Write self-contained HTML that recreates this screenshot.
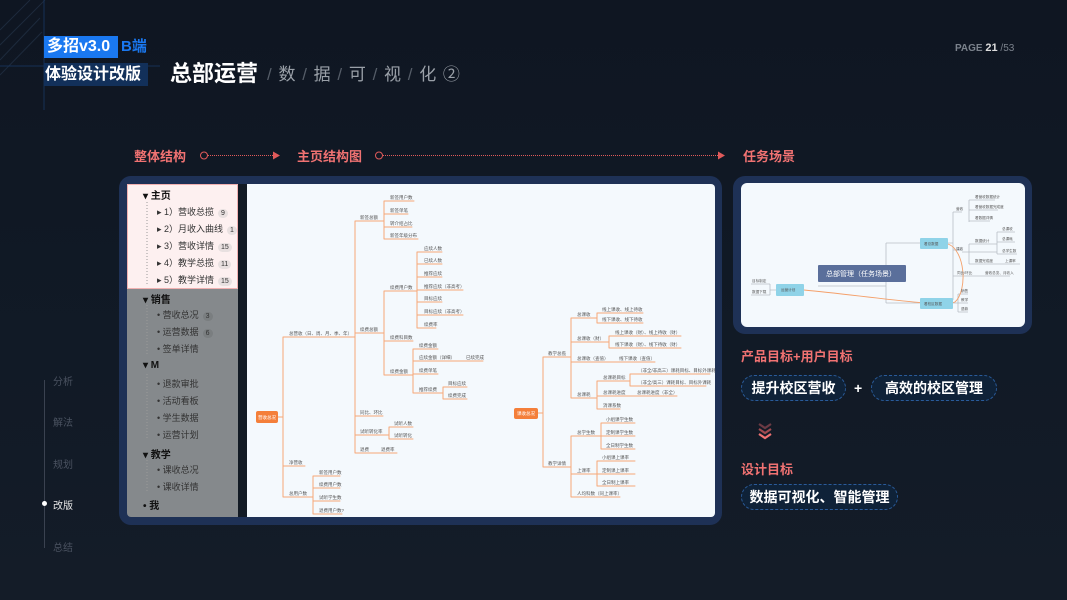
<!DOCTYPE html>
<html><head><meta charset="utf-8"><style>
*{margin:0;padding:0;box-sizing:border-box}
body{width:1067px;height:600px;overflow:hidden;background:linear-gradient(180deg,#0f1622 0%,#111a26 60%,#141c28 100%);font-family:"Liberation Sans","Noto Sans CJK SC",sans-serif;position:relative;color:#fff}
.a{position:absolute;white-space:nowrap}
.red{color:#f07272;font-weight:bold;font-size:13px}
.pill{position:absolute;height:26px;border:1px dashed #2a5b9a;border-radius:13px;background:#0f2238;color:#fff;font-weight:bold;font-size:14px;line-height:24px;text-align:center}
.sb{position:absolute;left:127px;width:111px;font-size:9px;color:#333}
.sb div{position:absolute;white-space:nowrap}
.h{font-weight:bold;font-size:10px;color:#111}
.b{display:inline-block;background:#e8e0e0;border-radius:5px;font-size:7px;padding:0 3px;margin-left:4px;color:#333;line-height:9px}
.nav{position:absolute;left:53px;font-size:10px;color:#4a5260}
</style></head><body>
<svg class="a" style="left:0;top:0" width="160" height="110"><g stroke="#1d2a3c" stroke-width="1"><line x1="0" y1="30" x2="30" y2="0"/><line x1="0" y1="45" x2="45" y2="0"/><line x1="0" y1="60" x2="40" y2="18"/><line x1="0" y1="75" x2="42" y2="32"/></g><line x1="0" y1="66" x2="160" y2="66" stroke="#163056"/><line x1="44" y1="0" x2="44" y2="110" stroke="#163056"/></svg>
<div class="a" style="left:44px;top:36px;width:74px;height:22px;background:#1a78f0"></div>
<div class="a" style="left:47px;top:36px;font-size:16px;font-weight:bold;line-height:22px">多招v3.0</div>
<div class="a" style="left:121px;top:36px;font-size:15px;font-weight:bold;line-height:22px;color:#1a78f0">B端</div>
<div class="a" style="left:44px;top:63px;width:104px;height:23px;background:#12305a"></div>
<div class="a" style="left:45px;top:63px;font-size:16px;font-weight:bold;line-height:23px">体验设计改版</div>
<div class="a" style="left:170px;top:59px;font-size:22px;font-weight:bold;line-height:30px">总部运营</div>
<div class="a" style="left:267px;top:63px;font-size:17px;line-height:24px;color:#9aa0a8;letter-spacing:1px"><span style="color:#555d68">/</span> 数 <span style="color:#555d68">/</span> 据 <span style="color:#555d68">/</span> 可 <span style="color:#555d68">/</span> 视 <span style="color:#555d68">/</span> 化 ②</div>
<div class="a" style="left:955px;top:42px;font-size:10px;font-weight:bold;color:#7b828c">PAGE <span style="color:#ddd;font-size:11px">21</span> <span style="font-weight:normal">/53</span></div>

<div class="a red" style="left:134px;top:146px">整体结构</div>
<div class="a red" style="left:297px;top:146px">主页结构图</div>
<div class="a red" style="left:743px;top:146px">任务场景</div>
<svg class="a" style="left:0;top:140px" width="1067" height="30"><g stroke="#e05a5a" fill="none"><circle cx="204" cy="15.5" r="3.5"/><line x1="208" y1="15.5" x2="274" y2="15.5" stroke-dasharray="1 1"/><circle cx="379" cy="15.5" r="3.5"/><line x1="383" y1="15.5" x2="720" y2="15.5" stroke-dasharray="1 1"/></g><polygon points="273,11.5 280,15.5 273,19.5" fill="#e05a5a"/><polygon points="718,11.5 725,15.5 718,19.5" fill="#e05a5a"/></svg>

<div class="a" style="left:119px;top:176px;width:603px;height:349px;background:#1e3156;border-radius:12px"></div>
<div class="a" style="left:127px;top:184px;width:111px;height:333px;background:#85898c;border-radius:4px 0 0 4px"></div>
<div class="a" style="left:127px;top:184px;width:111px;height:105px;background:#fdf0f0;border:1px solid #f0b0b0"></div>
<div class="a" style="left:238px;top:184px;width:9px;height:333px;background:#121a24"></div>
<div class="a" style="left:247px;top:184px;width:468px;height:333px;background:#f4f9fd;border-radius:0 4px 4px 0"></div>
<svg class="a" style="left:127px;top:184px" width="111" height="333"><g stroke="#9a9a9a" stroke-dasharray="1 2"><line x1="20" y1="18" x2="20" y2="102"/><line x1="20" y1="121" x2="20" y2="170"/><line x1="20" y1="190" x2="20" y2="256"/><line x1="20" y1="276" x2="20" y2="308"/></g></svg>
<div class="sb" style="top:184px;height:333px">
<div class="h" style="left:16px;top:3px">▾ 主页</div>
<div style="left:30px;top:21px">▸ 1）营收总揽<span class="b">9</span></div>
<div style="left:30px;top:38px">▸ 2）月收入曲线<span class="b">1</span></div>
<div style="left:30px;top:55px">▸ 3）营收详情<span class="b">15</span></div>
<div style="left:30px;top:72px">▸ 4）教学总揽<span class="b">11</span></div>
<div style="left:30px;top:89px">▸ 5）教学详情<span class="b">15</span></div>
<div class="h" style="left:16px;top:107px">▾ 销售</div>
<div style="left:30px;top:124px">• 营收总况<span class="b" style="background:#7a7e80">3</span></div>
<div style="left:30px;top:141px">• 运营数据<span class="b" style="background:#7a7e80">6</span></div>
<div style="left:30px;top:158px">• 签单详情</div>
<div class="h" style="left:16px;top:176px">▾ M</div>
<div style="left:30px;top:193px">• 退款审批</div>
<div style="left:30px;top:210px">• 活动看板</div>
<div style="left:30px;top:227px">• 学生数据</div>
<div style="left:30px;top:244px">• 运营计划</div>
<div class="h" style="left:16px;top:262px">▾ 教学</div>
<div style="left:30px;top:279px">• 课收总况</div>
<div style="left:30px;top:296px">• 课收详情</div>
<div class="h" style="left:16px;top:313px">• 我</div>
</div>

<svg class="a" style="left:0;top:0" width="1067" height="600" font-family="Liberation Sans,Noto Sans CJK SC,sans-serif" font-size="4.5" fill="#555">
<g stroke="#f6a878" stroke-width="1" fill="none" stroke-linecap="round">
<path d="M278 417H283M283 337V497M283 337H355M283 466H305M283 497H313"/>
<path d="M355 221V453M355 221H384M355 333H384M355 416H383M355 435H389M355 453H397"/>
<path d="M384 201V239M384 201H414M384 214H408M384 227H412M384 239H418"/>
<path d="M384 291V375M384 291H417M384 341H413M384 375H413"/>
<path d="M417 252V328M417 252H442M417 264H442M417 277H442M417 290H463M417 302H442M417 315H463M417 328H436"/>
<path d="M413 349V393M413 349H438M413 361H483M413 374H438M413 393H443M443 387V399M443 387H467M443 399H467"/>
<path d="M389 427V439M389 427H413M389 439H413M313 476V514M313 476H340M313 488H340M313 501H340M313 514H342"/>
<path d="M538 413H543M543 357V467M543 357H571M543 467H571"/>
<path d="M571 318V398M571 318H597M571 342H609M571 362H655M571 398H597"/>
<path d="M597 313V323M597 313H643M597 323H643M609 336V348M609 336H681M609 348H681"/>
<path d="M597 381V409M597 381H630M597 396H677M597 409H620M630 374V386M630 374H710M630 386H706"/>
<path d="M571 436V497M571 436H601M571 474H597M571 497H620M601 423V449M601 423H635M601 436H635M601 449H635M597 461V486M597 461H635M597 474H635M597 486H635"/>
</g>
<rect x="256" y="411" width="22" height="12" rx="2" fill="#f47f3a"/><text x="258" y="419" fill="#fff">营收总况</text>
<rect x="514" y="408" width="24" height="11" rx="2" fill="#f47f3a"/><text x="517" y="415" fill="#fff">课收总况</text>
<text x="289" y="335">总营收（日、周、月、季、年）</text><text x="289" y="464">净营收</text><text x="289" y="495">总用户数</text>
<text x="360" y="219">新签总额</text><text x="360" y="331">续费总额</text><text x="360" y="414">同比、环比</text><text x="360" y="433">试听转化率</text><text x="360" y="451">退费</text><text x="381" y="451">退费率</text>
<text x="390" y="199">新签用户数</text><text x="390" y="212">新签单笔</text><text x="390" y="225">转介绍占比</text><text x="390" y="237">新签年级分布</text>
<text x="390" y="289">续费用户数</text><text x="390" y="339">续费科目数</text><text x="390" y="373">续费金额</text>
<text x="424" y="250">应续人数</text><text x="424" y="262">已续人数</text><text x="424" y="275">推荐应续</text><text x="424" y="288">推荐应续（非高考）</text><text x="424" y="300">目标应续</text><text x="424" y="313">目标应续（非高考）</text><text x="424" y="326">续费率</text>
<text x="419" y="347">续费金额</text><text x="419" y="359">应续金额（详细）</text><text x="466" y="359">已续完成</text><text x="419" y="372">续费单笔</text><text x="419" y="391">推荐续费</text><text x="448" y="385">目标应续</text><text x="448" y="397">续费完成</text>
<text x="394" y="425">试听人数</text><text x="394" y="437">试听转化</text>
<text x="319" y="474">新签用户数</text><text x="319" y="486">续费用户数</text><text x="319" y="499">试听学生数</text><text x="319" y="512">退费用户数?</text>
<text x="548" y="355">教学总揽</text><text x="548" y="465">教学详情</text>
<text x="577" y="316">总课收</text><text x="577" y="340">总课收（财）</text><text x="577" y="360">总课收（查值）</text><text x="619" y="360">线下课收（查值）</text><text x="577" y="396">总课耗</text>
<text x="602" y="311">线上课收、线上待收</text><text x="602" y="321">线下课收、线下待收</text><text x="615" y="334">线上课收（财）、线上待收（财）</text><text x="615" y="346">线下课收（财）、线下待收（财）</text>
<text x="603" y="379">总课耗目标</text><text x="603" y="394">总课耗进度</text><text x="637" y="394">总课耗进度（非全）</text><text x="603" y="407">消课系数</text>
<text x="638" y="372">（非全/非高三）课耗目标、目标外课耗</text><text x="638" y="384">（非全/高三）课耗目标、目标外课耗</text>
<text x="577" y="434">总学生数</text><text x="577" y="472">上课率</text><text x="577" y="495">人均科数（同上课率）</text>
<text x="606" y="421">小组课学生数</text><text x="606" y="434">定制课学生数</text><text x="606" y="447">全日制学生数</text>
<text x="602" y="459">小组课上课率</text><text x="602" y="472">定制课上课率</text><text x="602" y="484">全日制上课率</text>
</svg>

<div class="a" style="left:733px;top:176px;width:299px;height:158px;background:#1e3156;border-radius:12px"></div>
<div class="a" style="left:741px;top:183px;width:284px;height:144px;background:#f4f9fd;border-radius:6px"></div>
<svg class="a" style="left:0;top:0" width="1067" height="600" font-family="Liberation Sans,Noto Sans CJK SC,sans-serif" font-size="3.6" fill="#555">
<g stroke="#b8bec6" stroke-width="0.8" fill="none">
<path d="M818 286H886V282M886 243H920M886 303H920M886 243V303"/>
<path d="M948 243H953M953 212V300M953 212H962M953 250H962M953 276H1010M969 200V222M969 200H995M969 210H998M969 221H990"/>
<path d="M962 252H997M969 244V264M969 244H997M969 264H1020M997 232V254M997 232H1015M997 242H1015M997 254H1017"/>
<path d="M953 303H958M958 294V312M958 294H968M958 303H968M958 312H968"/>
<path d="M776 290H770M770 284V295M770 284H751M770 295H751"/>
</g>
<path d="M948 244C965 250 968 290 955 302C940 308 860 295 804 290" stroke="#f4a06a" stroke-width="0.9" fill="none"/>
<rect x="818" y="265" width="88" height="17" rx="1" fill="#5a6f9b"/><text x="826" y="276" font-size="7" fill="#fff">总部管理（任务场景）</text>
<rect x="920" y="238" width="28" height="11" rx="1" fill="#8fd3e8"/><text x="924" y="245">看总数据</text>
<rect x="920" y="298" width="33" height="11" rx="1" fill="#8fd3e8"/><text x="924" y="305">看校区数据</text>
<rect x="776" y="284" width="28" height="12" rx="1" fill="#8fd3e8"/><text x="781" y="291">运营计划</text>
<text x="956" y="210">营收</text><text x="975" y="198">看营收数据统计</text><text x="975" y="208">看营收数据完成度</text><text x="975" y="219">看数据详情</text>
<text x="956" y="250">课收</text><text x="975" y="242">数据统计</text><text x="1002" y="230">总课收</text><text x="1002" y="240">总课耗</text><text x="1002" y="252">总学生数</text><text x="975" y="262">数据完成度</text><text x="1005" y="262">上课率</text>
<text x="957" y="274">同比/环比</text><text x="985" y="274">营收总览、月收入</text>
<text x="961" y="292">销售</text><text x="961" y="301">教学</text><text x="961" y="310">退款</text>
<text x="752" y="282">目标制定</text><text x="752" y="293">数据下载</text>
</svg>

<div class="a red" style="left:741px;top:346px">产品目标+用户目标</div>
<div class="pill" style="left:741px;top:375px;width:105px">提升校区营收</div>
<div class="a" style="left:854px;top:380px;font-size:14px;font-weight:bold">+</div>
<div class="pill" style="left:871px;top:375px;width:126px">高效的校区管理</div>
<svg class="a" style="left:756px;top:422px" width="20" height="20"><g fill="none" stroke-width="2.2"><polyline points="3,2 9,6 15,2" stroke="#6b3a44"/><polyline points="3,7 9,11 15,7" stroke="#a04a50"/><polyline points="3,12 9,16 15,12" stroke="#f07272"/></g></svg>
<div class="a red" style="left:741px;top:459px">设计目标</div>
<div class="pill" style="left:741px;top:484px;width:157px">数据可视化、智能管理</div>

<div class="a" style="left:44px;top:380px;width:1px;height:168px;background:#3a4250"></div>
<div class="a" style="left:42px;top:501px;width:5px;height:5px;border-radius:50%;background:#fff"></div>
<div class="nav" style="top:373px">分析</div>
<div class="nav" style="top:414px">解法</div>
<div class="nav" style="top:456px">规划</div>
<div class="nav" style="top:497px;color:#e8e8e8">改版</div>
<div class="nav" style="top:539px">总结</div>
</body></html>
